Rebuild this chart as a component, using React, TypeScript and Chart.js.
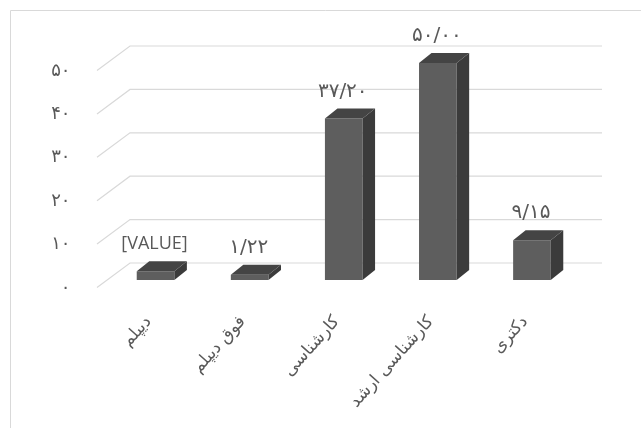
import React, { useEffect, useRef } from "react";
import { Chart, registerables } from "chart.js";

Chart.register(...registerables);

const categories = ["دیپلم", "فوق دیپلم", "کارشناسی", "کارشناسی ارشد", "دکتری"];
const values = [2.0, 1.22, 37.2, 50.0, 9.15];
const valueLabels = ["[VALUE]", "۱/۲۲", "۳۷/۲۰", "۵۰/۰۰", "۹/۱۵"];
const yTickValues = [0, 10, 20, 30, 40, 50];
const yTickLabels = ["۰", "۱۰", "۲۰", "۳۰", "۴۰", "۵۰"];

const GRID = "#d9d9d9";
const TEXT = "#595959";
const FRONT = "#5e5e5e";
const SIDE = "#3b3b3b";
const TOP = "#444444";
const PERSIAN_FONT = "'DejaVu Sans'";

// perspective offsets (from the bar plane)
const DEPTH_X = 12.5;
const DEPTH_Y = -10;
const WALL_X = 21.5;
const WALL_Y = -17;
const EDGE_X = -11.5;
const EDGE_Y = 7.5;
const WALL_RIGHT = 23;

const pseudo3d = {
  id: "pseudo3d",
  beforeDatasetsDraw(chart: any) {
    const { ctx, chartArea, scales } = chart;
    const y = scales.y;
    ctx.save();
    ctx.strokeStyle = GRID;
    ctx.lineWidth = 1;
    ctx.beginPath();
    ctx.moveTo(10.5, chart.height);
    ctx.lineTo(10.5, 10.5);
    ctx.lineTo(chart.width, 10.5);
    ctx.stroke();
    ctx.lineWidth = 1.2;
    y.ticks.forEach((t: any) => {
      const yb = y.getPixelForValue(t.value);
      ctx.beginPath();
      ctx.moveTo(chartArea.left + EDGE_X, yb + EDGE_Y);
      ctx.lineTo(chartArea.left + WALL_X, yb + WALL_Y);
      ctx.lineTo(chartArea.right + WALL_RIGHT, yb + WALL_Y);
      ctx.stroke();
    });
    ctx.restore();
  },
  afterDatasetsDraw(chart: any) {
    const { ctx } = chart;
    const meta = chart.getDatasetMeta(0);
    ctx.save();
    meta.data.forEach((bar: any, i: number) => {
      const { x, y, base, width } = bar.getProps(["x", "y", "base", "width"], true);
      const l = x - width / 2;
      const r = x + width / 2;
      ctx.fillStyle = SIDE;
      ctx.beginPath();
      ctx.moveTo(r, y);
      ctx.lineTo(r + DEPTH_X, y + DEPTH_Y);
      ctx.lineTo(r + DEPTH_X, base + DEPTH_Y);
      ctx.lineTo(r, base);
      ctx.closePath();
      ctx.fill();
      ctx.fillStyle = TOP;
      ctx.beginPath();
      ctx.moveTo(l, y);
      ctx.lineTo(l + DEPTH_X, y + DEPTH_Y);
      ctx.lineTo(r + DEPTH_X, y + DEPTH_Y);
      ctx.lineTo(r, y);
      ctx.closePath();
      ctx.fill();
      const txt = valueLabels[i];
      const latin = /[A-Z]/.test(txt);
      ctx.font = latin ? "18px 'Open Sans'" : `20px ${PERSIAN_FONT}`;
      ctx.fillStyle = TEXT;
      ctx.textAlign = "center";
      ctx.textBaseline = "middle";
      ctx.fillText(txt, x - 1, y - 27);
    });
    ctx.restore();
  },
};

export default function App() {
  const ref = useRef<HTMLCanvasElement>(null);
  useEffect(() => {
    document.body.style.margin = "0";
    const chart = new Chart(ref.current as HTMLCanvasElement, {
      type: "bar",
      data: {
        labels: categories,
        datasets: [
          {
            data: values,
            backgroundColor: FRONT,
            borderWidth: 0,
            categoryPercentage: 1,
            barPercentage: 0.4,
          },
        ],
      },
      options: {
        animation: false,
        responsive: true,
        maintainAspectRatio: false,
        layout: { padding: { left: 0, top: 63, right: 62, bottom: 0 } },
        plugins: { legend: { display: false }, tooltip: { enabled: false } },
        scales: {
          x: {
            grid: { display: false, drawTicks: false },
            border: { display: false },
            ticks: {
              autoSkip: false,
              maxRotation: 48,
              minRotation: 48,
              padding: 32,
              labelOffset: -7,
              color: TEXT,
              font: { family: PERSIAN_FONT, size: 17 },
            },
            afterFit: (s: any) => {
              s.height = 148;
            },
          },
          y: {
            min: 0,
            max: 50,
            grid: { display: false, drawTicks: false },
            border: { display: false },
            ticks: {
              stepSize: 10,
              padding: 38,
              labelOffset: 8,
              color: TEXT,
              font: { family: PERSIAN_FONT, size: 18 },
              callback: (v: any) => {
                const idx = yTickValues.indexOf(Number(v));
                return idx >= 0 ? yTickLabels[idx] : "";
              },
            },
            afterFit: (s: any) => {
              s.width = 108.5;
            },
          },
        },
      },
      plugins: [pseudo3d],
    });
    return () => chart.destroy();
  }, []);
  return (
    <div style={{ width: 641, height: 428, position: "relative", background: "#fff" }}>
      <canvas ref={ref} />
    </div>
  );
}
